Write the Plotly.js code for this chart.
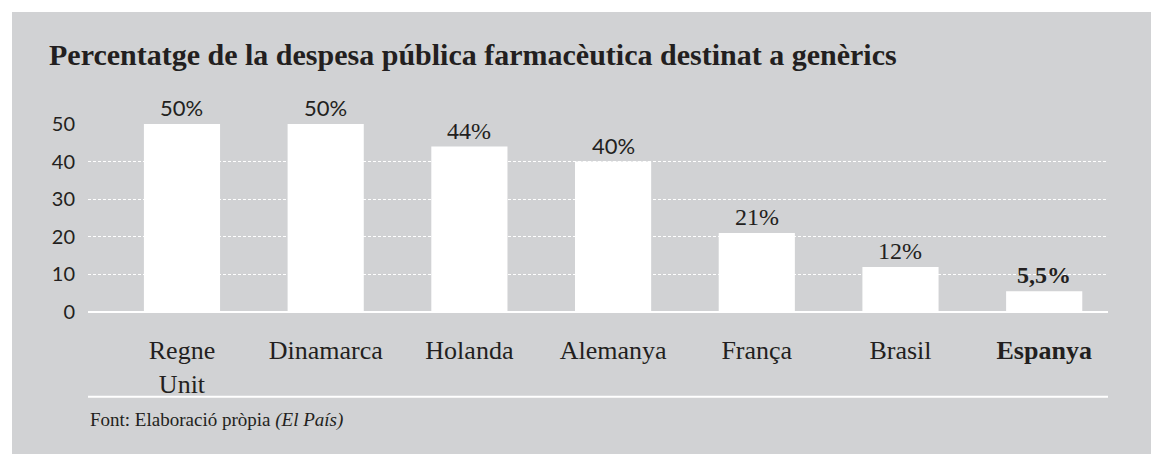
<!DOCTYPE html>
<html>
<head>
<meta charset="utf-8">
<script src="https://cdn.plot.ly/plotly-3.0.1.min.js"></script>
<style>
  html, body { margin: 0; padding: 0; background: #ffffff; }
  #chart { position: absolute; left: 12px; top: 12px; width: 1139px; height: 442px; }
</style>
</head>
<body>
<div id="chart"></div>
<script>
// ---- data ----
const categories = ['Regne Unit', 'Dinamarca', 'Holanda', 'Alemanya', 'França', 'Brasil', 'Espanya'];
const tickLabels = ['Regne<br>Unit', 'Dinamarca', 'Holanda', 'Alemanya', 'França', 'Brasil', '<b>Espanya</b>'];
const values = [50, 50, 44, 40, 21, 12, 5.5];
const yTicks = [0, 10, 20, 30, 40, 50];

// ---- styles (kept apart from data) ----
const INK = '#231f20';
const SANS = 'Lato, sans-serif';
const SERIF = 'Liberation Serif, serif';
const labelFonts = [SANS, SANS, SERIF, SANS, SERIF, SERIF, SERIF];
const boldLabel = [false, false, false, false, false, false, true];

const fmt = v => String(v).replace('.', ',') + '%';

const trace = {
  type: 'bar',
  x: categories,
  y: values,
  width: 0.53,
  marker: { color: '#ffffff', line: { width: 0 } },
  hoverinfo: 'skip'
};

const annotations = categories.map((c, i) => ({
  x: c, y: values[i], xref: 'x', yref: 'y',
  text: boldLabel[i] ? '<b>' + fmt(values[i]) + '</b>' : fmt(values[i]),
  showarrow: false, xanchor: 'center', yanchor: 'bottom', yshift: 1,
  font: { family: labelFonts[i], size: labelFonts[i] === SANS ? 22 : 24, color: INK }
}));

annotations.push({
  xref: 'paper', yref: 'paper', x: 0, y: -0.574, xanchor: 'left', yanchor: 'middle',
  showarrow: false,
  text: 'Font: Elaboració pròpia <i>(El País)</i>',
  font: { family: SERIF, size: 19, color: INK }
});

const layout = {
  width: 1139, height: 442,
  margin: { l: 76, r: 43, t: 111.5, b: 141.5, pad: 0 },
  paper_bgcolor: '#d1d2d4',
  plot_bgcolor: '#d1d2d4',
  showlegend: false,
  title: {
    text: '<b>Percentatge de la despesa pública farmacèutica destinat a genèrics</b>',
    xref: 'container', yref: 'container',
    x: 37 / 1139, xanchor: 'left',
    y: 1 - 53 / 442, yanchor: 'bottom',
    font: { family: SERIF, size: 30, color: INK }
  },
  xaxis: {
    type: 'category',
    range: [-0.654, 6.444],
    tickmode: 'array', tickvals: categories, ticktext: tickLabels,
    ticks: '', showgrid: false, zeroline: false, showline: false,
    ticklabelstandoff: 20,
    tickfont: { family: SERIF, size: 26, color: INK },
    fixedrange: true
  },
  yaxis: {
    range: [0, 50],
    tickmode: 'array', tickvals: yTicks,
    ticks: '', showline: false,
    showgrid: true, gridcolor: '#ffffff', gridwidth: 1, griddash: '3px,2px',
    zeroline: true, zerolinecolor: '#ffffff', zerolinewidth: 2,
    ticklabelstandoff: 12,
    tickfont: { family: SANS, size: 20, color: INK },
    fixedrange: true
  },
  shapes: [{
    type: 'line', xref: 'paper', yref: 'paper',
    x0: 0, x1: 1, y0: -0.451, y1: -0.451,
    line: { color: '#ffffff', width: 2 }
  }],
  annotations: annotations
};

Plotly.newPlot('chart', [trace], layout, { displayModeBar: false, staticPlot: true });
</script>
</body>
</html>
